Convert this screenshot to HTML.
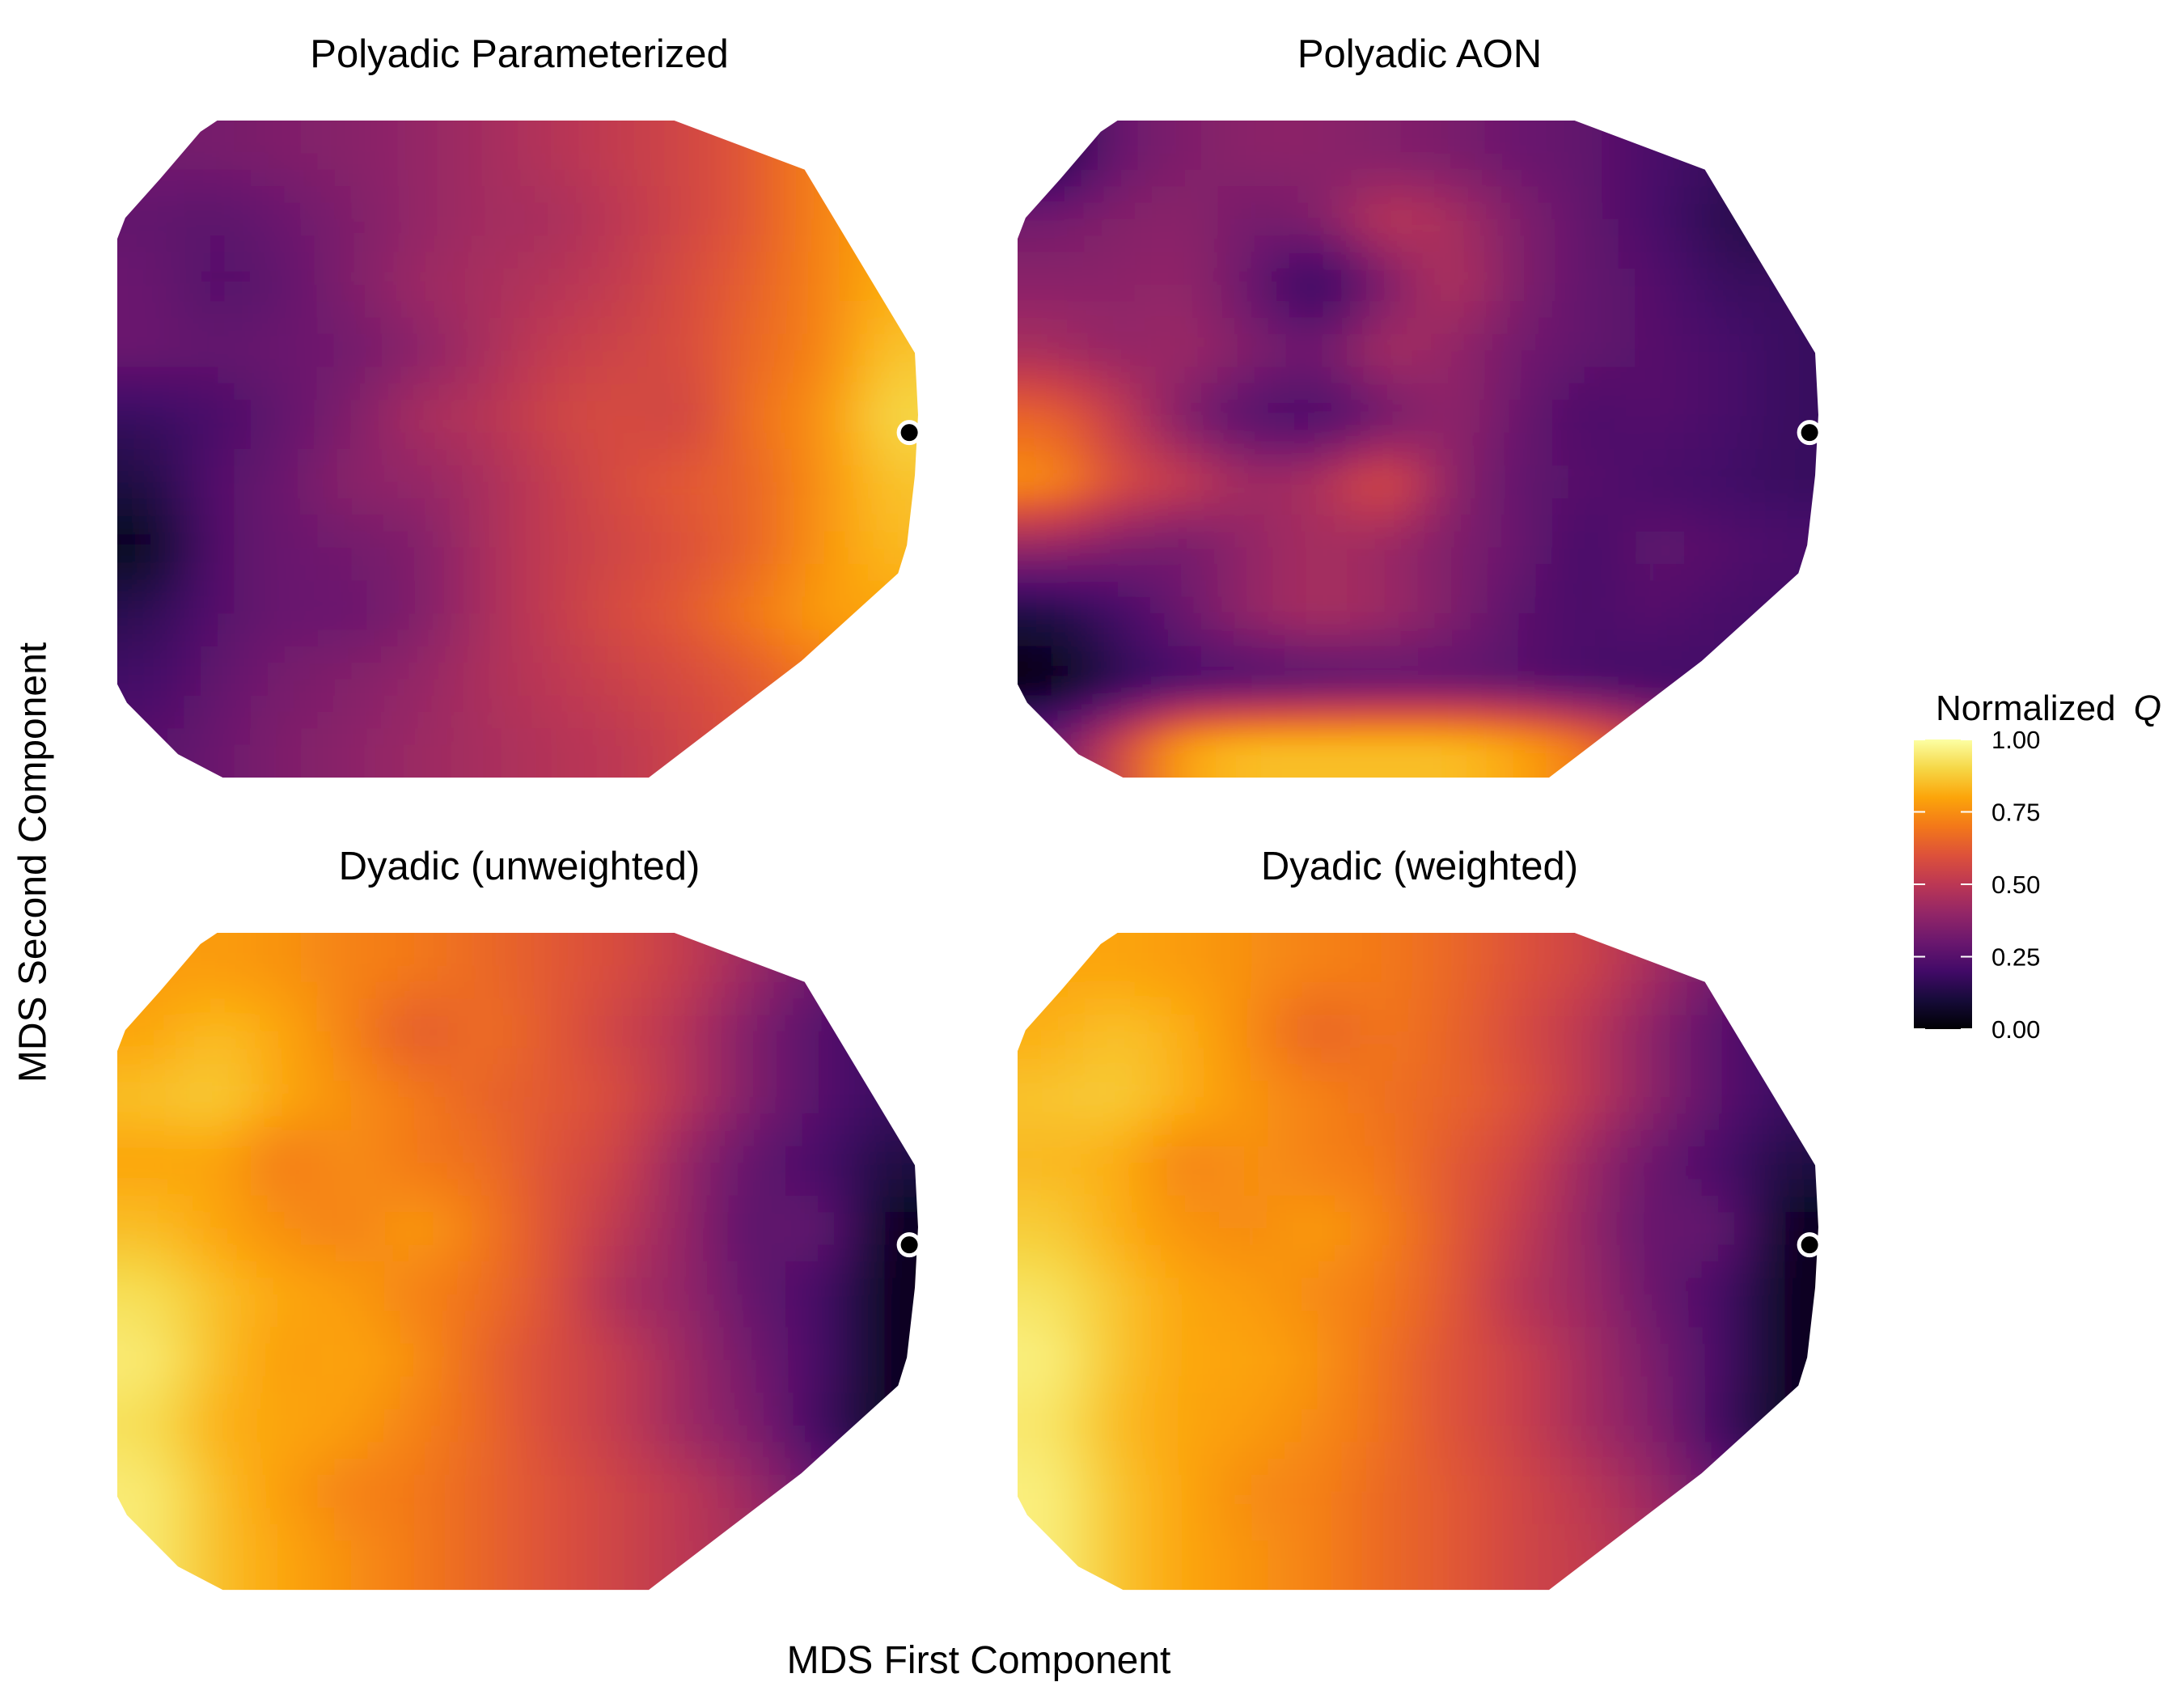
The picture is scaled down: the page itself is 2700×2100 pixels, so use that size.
<!DOCTYPE html>
<html><head><meta charset="utf-8">
<style>
html,body{margin:0;padding:0;background:#fff;}
svg{display:block;}
text{font-family:"Liberation Sans",Arial,sans-serif;fill:#000;}
</style></head>
<body>
<svg id="chart" width="2700" height="2100" viewBox="0 0 2700 2100" xmlns="http://www.w3.org/2000/svg">
<defs>
<filter id="blur" filterUnits="userSpaceOnUse" x="-200" y="-200" width="3200" height="2600">
<feGaussianBlur stdDeviation="30 14"/>
</filter>
<linearGradient id="cbar" x1="0" y1="1" x2="0" y2="0">
<stop offset="0" stop-color="#000004"/><stop offset="0.1" stop-color="#160b39"/>
<stop offset="0.2" stop-color="#420a68"/><stop offset="0.3" stop-color="#6a176e"/>
<stop offset="0.4" stop-color="#932667"/><stop offset="0.5" stop-color="#bc3754"/>
<stop offset="0.6" stop-color="#dd513a"/><stop offset="0.7" stop-color="#f37819"/>
<stop offset="0.8" stop-color="#fca50a"/><stop offset="0.9" stop-color="#f6d746"/>
<stop offset="1" stop-color="#fcffa4"/>
</linearGradient>
</defs>
<g id="panels"></g>
<text x="44" y="1066" font-size="48" text-anchor="middle" transform="rotate(-90 44 1066)" dominant-baseline="middle">MDS Second Component</text>
<text x="1210" y="2068" font-size="48" text-anchor="middle">MDS First Component</text>
<g>
<text x="2393" y="890" font-size="44">Normalized <tspan font-style="italic" dx="10">Q</tspan></text>
<rect x="2366" y="914" width="72" height="358" fill="url(#cbar)"/>
<g id="cbticks"></g>
</g>
</svg>
<script>
const panelTitles = ["Polyadic Parameterized","Polyadic AON","Dyadic (unweighted)","Dyadic (weighted)"];
const legendTicks = [0,0.25,0.5,0.75,1];
const legendTickLabels = ["0.00","0.25","0.50","0.75","1.00"];
const gridP1 = [
[.32,.33,.35,.37,.40,.44,.48,.52,.56,.62,.72,.78],
[.28,.26,.30,.35,.40,.44,.45,.50,.56,.62,.72,.80],
[.30,.24,.28,.35,.42,.45,.48,.52,.58,.64,.72,.82],
[.30,.28,.30,.32,.38,.45,.52,.55,.58,.66,.72,.86],
[.18,.22,.28,.35,.45,.48,.55,.58,.55,.68,.75,.90],
[.12,.25,.30,.38,.40,.45,.52,.58,.62,.65,.75,.86],
[.05,.25,.30,.32,.35,.45,.52,.56,.60,.65,.76,.84],
[.15,.25,.30,.30,.35,.45,.52,.58,.62,.70,.78,.80],
[.20,.28,.33,.36,.40,.46,.50,.54,.58,.62,.70,.75],
[.25,.30,.35,.38,.42,.45,.48,.50,.55,.60,.65,.70]];
const gridP2 = [
[.10,.30,.35,.38,.38,.36,.34,.30,.28,.22,.18,.15],
[.32,.36,.38,.32,.35,.50,.45,.35,.28,.22,.15,.12],
[.38,.38,.40,.30,.15,.35,.48,.35,.28,.25,.18,.18],
[.45,.40,.42,.35,.30,.45,.40,.32,.28,.25,.22,.18],
[.65,.52,.35,.25,.22,.32,.40,.30,.22,.25,.22,.18],
[.75,.58,.52,.42,.45,.60,.38,.28,.25,.22,.20,.18],
[.40,.35,.32,.40,.45,.42,.35,.30,.20,.28,.25,.22],
[.12,.20,.30,.40,.45,.42,.35,.26,.22,.25,.22,.20],
[.02,.15,.22,.24,.26,.28,.28,.26,.22,.20,.20,.20],
[.30,.55,.80,.85,.85,.85,.85,.80,.70,.55,.30,.25]];
const gridP3 = [
[.78,.78,.76,.72,.70,.66,.62,.58,.52,.42,.30,.25],
[.80,.85,.80,.72,.62,.68,.62,.55,.48,.35,.25,.18],
[.85,.88,.80,.75,.70,.65,.62,.58,.48,.35,.25,.18],
[.80,.80,.70,.75,.70,.68,.60,.55,.40,.28,.22,.12],
[.85,.80,.75,.72,.78,.70,.60,.50,.40,.25,.30,.05],
[.92,.85,.80,.78,.72,.68,.60,.45,.40,.28,.22,.05],
[.95,.85,.78,.80,.75,.65,.58,.52,.42,.32,.22,.05],
[.92,.82,.80,.78,.72,.66,.58,.52,.42,.35,.20,.05],
[.95,.85,.78,.72,.70,.65,.60,.55,.50,.42,.30,.20],
[.95,.85,.80,.75,.70,.65,.60,.55,.50,.45,.38,.30]];
const gridP4 = [
[.80,.80,.78,.75,.72,.70,.66,.60,.55,.45,.32,.25],
[.82,.86,.82,.74,.64,.70,.65,.58,.50,.38,.26,.18],
[.86,.88,.82,.76,.72,.68,.65,.60,.50,.38,.26,.18],
[.84,.82,.72,.76,.72,.70,.62,.56,.42,.30,.22,.12],
[.88,.82,.76,.74,.78,.72,.62,.52,.40,.28,.30,.05],
[.93,.86,.80,.78,.74,.70,.62,.48,.42,.30,.22,.05],
[.96,.86,.80,.80,.76,.68,.60,.54,.44,.34,.22,.05],
[.94,.84,.80,.78,.74,.68,.60,.54,.44,.36,.20,.05],
[.96,.86,.80,.74,.72,.66,.62,.56,.50,.42,.30,.20],
[.96,.86,.80,.76,.72,.66,.62,.56,.52,.46,.38,.30]];
const grids = [gridP1,gridP2,gridP3,gridP4];

const stops=[[0,0,4],[22,11,57],[66,10,104],[106,23,110],[147,38,103],[188,55,84],[221,81,58],[243,120,25],[252,165,10],[246,215,70],[252,255,164]];
function inferno(v){v=Math.max(0,Math.min(1,v));const t=v*10;const i=Math.min(9,Math.floor(t));const f=t-i;const a=stops[i],b=stops[i+1];
return `rgb(${Math.round(a[0]+(b[0]-a[0])*f)},${Math.round(a[1]+(b[1]-a[1])*f)},${Math.round(a[2]+(b[2]-a[2])*f)})`;}
function sample(g,fr,fc){
  const rows=g.length,cols=g[0].length;
  fr=Math.max(0,Math.min(rows-1,fr));fc=Math.max(0,Math.min(cols-1,fc));
  const r0=Math.floor(fr),c0=Math.floor(fc),r1=Math.min(rows-1,r0+1),c1=Math.min(cols-1,c0+1);
  const a=fr-r0,b=fc-c0;
  return g[r0][c0]*(1-a)*(1-b)+g[r0][c1]*(1-a)*b+g[r1][c0]*a*(1-b)+g[r1][c1]*a*b;
}

const NS="http://www.w3.org/2000/svg";
const origins=[[145,149],[1258,149],[145,1153],[1258,1153]];
const SX=0.988,SY=0.994;
const W=1002*SX,H=817*SY;
const poly=[[125,0],[697,0],[860,61],[998,289],[1002,366],[998,441],[988,528],[977,563],[856,672],[665,817],[132,817],[76,788],[12,724],[0,701],[0,147],[10,121],[54,72],[104,14]];
const dotPos=[991,388];
const svg=document.getElementById('chart');
const defs=svg.querySelector('defs');
const panels=document.getElementById('panels');
const SUB=4;
grids.forEach((g,p)=>{
  const [ox,oy]=origins[p];
  const cp=document.createElementNS(NS,'clipPath');cp.setAttribute('id','clip'+p);
  const pg=document.createElementNS(NS,'polygon');
  pg.setAttribute('points',poly.map(q=>(q[0]*SX+ox)+','+(q[1]*SY+oy)).join(' '));
  cp.appendChild(pg);defs.appendChild(cp);
  const grp=document.createElementNS(NS,'g');
  
  
  const clipG=document.createElementNS(NS,'g');clipG.setAttribute('clip-path','url(#clip'+p+')');
  const blurG=document.createElementNS(NS,'g');blurG.setAttribute('filter','url(#blur)');
  const rows=g.length,cols=g[0].length,nr=rows*SUB,nc=cols*SUB,cw=W/nc,ch=H/nr,pad=100;
  for(let r=0;r<nr;r++)for(let c=0;c<nc;c++){
    const v=sample(g,(r+0.5)/SUB-0.5,(c+0.5)/SUB-0.5);
    let x=ox+c*cw,y=oy+r*ch,w=cw+1,h=ch+1;
    if(c===0){x-=pad;w+=pad;} if(c===nc-1){w+=pad;}
    if(r===0){y-=pad;h+=pad;} if(r===nr-1){h+=pad;}
    const rc=document.createElementNS(NS,'rect');
    rc.setAttribute('x',x.toFixed(1));rc.setAttribute('y',y.toFixed(1));rc.setAttribute('width',w.toFixed(1));rc.setAttribute('height',h.toFixed(1));
    rc.setAttribute('fill',inferno(v));
    
    
    blurG.appendChild(rc);
  }
  clipG.appendChild(blurG);grp.appendChild(clipG);
  const dot=document.createElementNS(NS,'circle');
  dot.setAttribute('cx',ox+dotPos[0]*SX);dot.setAttribute('cy',oy+dotPos[1]*SY);dot.setAttribute('r',13);
  dot.setAttribute('fill','#000');dot.setAttribute('stroke','#fff');dot.setAttribute('stroke-width','5');
  
  
  grp.appendChild(dot);
  const t=document.createElementNS(NS,'text');
  t.setAttribute('x',ox+497);t.setAttribute('y',oy-66);t.setAttribute('font-size','49');t.setAttribute('text-anchor','middle');
  t.textContent=panelTitles[p];
  
  
  grp.appendChild(t);
  panels.appendChild(grp);
});
const tk=document.getElementById('cbticks');
legendTicks.forEach((v,i)=>{
  const y=1272-v*358;
  [[2366,2380],[2424,2438]].forEach(([a,b])=>{
    const l=document.createElementNS(NS,'line');
    l.setAttribute('x1',a);l.setAttribute('x2',b);l.setAttribute('y1',y);l.setAttribute('y2',y);
    l.setAttribute('stroke','#fff');l.setAttribute('stroke-width','2');
    
    
    tk.appendChild(l);
  });
  const t=document.createElementNS(NS,'text');
  t.setAttribute('x',2462);t.setAttribute('y',y+11);t.setAttribute('font-size','31');
  t.textContent=legendTickLabels[i];
  
  
  tk.appendChild(t);
});
</script>
</body></html>
